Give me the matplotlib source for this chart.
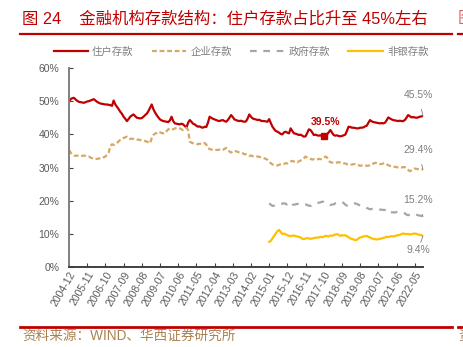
import numpy as np
import pandas as pd
import matplotlib
matplotlib.use("Agg")
import matplotlib.pyplot as plt
from matplotlib.lines import Line2D

plt.rcParams['font.family'] = ['Liberation Sans', 'Noto Sans CJK SC', 'DejaVu Sans']

# 月度数据：2004-12 ~ 2022-10
months = pd.date_range('2004-12-01', periods=215, freq='MS').strftime('%Y-%m')

household = [
    50.0, 50.6, 50.9, 51.0, 50.5, 50.1, 49.8, 49.7, 49.6, 49.5, 49.7, 49.9,
    50.0, 50.2, 50.4, 50.6, 50.2, 49.8, 49.5, 49.3, 49.2, 49.1, 49.0, 49.0,
    48.9, 48.8, 48.6, 50.2, 49.0, 48.3, 47.6, 46.8, 46.2, 45.3, 44.7, 44.0,
    44.6, 45.3, 45.7, 46.0, 45.5, 45.0, 44.9, 44.8, 44.9, 45.3, 45.8, 46.2,
    47.0, 48.0, 49.0, 47.6, 46.6, 45.8, 45.1, 44.5, 44.2, 44.0, 43.9, 43.8,
    43.7, 44.2, 45.3, 44.0, 43.3, 43.2, 43.1, 43.0, 43.2, 43.0, 42.5, 42.0,
    43.5, 44.3, 43.8, 43.2, 43.0, 42.6, 42.3, 42.4, 42.1, 42.0, 42.3, 42.2,
    43.5, 45.3, 45.0, 44.7, 44.5, 44.3, 44.1, 44.0, 44.2, 44.3, 44.0, 43.8,
    44.3, 45.0, 45.8, 45.2, 44.5, 44.3, 44.1, 44.0, 44.1, 43.9, 43.8, 43.9,
    44.8, 46.0, 45.3, 44.8, 44.6, 44.5, 44.3, 44.4, 44.1, 44.0, 44.0, 43.9,
    43.8, 44.6, 43.4, 42.3, 41.6, 41.0, 40.8, 40.5, 40.1, 40.0, 40.6, 40.8,
    40.5, 40.3, 41.8, 41.0, 40.3, 40.2, 40.0, 39.8, 39.9, 39.6, 39.3, 39.4,
    40.4, 41.5, 41.3, 40.6, 39.8, 39.9, 39.7, 39.6, 39.7, 39.4, 39.5, 39.6,
    40.0, 40.6, 41.3, 40.5, 39.8, 39.6, 39.7, 39.5, 39.4, 39.5, 39.7, 39.9,
    41.0, 42.3, 42.2, 42.0, 42.0, 41.9, 41.8, 41.8, 42.0, 42.0, 42.1, 42.4,
    42.6, 43.5, 44.3, 43.9, 43.7, 43.6, 43.5, 43.4, 43.3, 43.4, 43.3, 43.5,
    44.2, 45.1, 44.8, 44.5, 44.3, 44.2, 44.1, 44.0, 44.1, 44.0, 44.0, 44.3,
    45.0, 45.8, 45.5, 45.1, 45.2, 45.1, 45.0, 45.1, 45.3, 45.4, 45.5,
]

enterprise = [
    35.3, 34.5, 33.8, 33.6, 33.5, 33.6, 33.5, 33.4, 33.5, 33.6, 33.5, 33.3,
    33.3, 33.0, 32.8, 32.6, 32.5, 32.6, 32.7, 32.8, 33.0, 33.1, 33.3, 33.8,
    34.5, 36.5, 37.0, 36.8, 37.0, 37.4, 37.9, 38.3, 38.6, 38.9, 39.1, 39.3,
    38.8, 38.6, 38.7, 38.6, 38.5, 38.4, 38.4, 38.3, 38.2, 38.1, 38.0, 37.8,
    37.6, 37.3, 38.8, 39.8, 40.2, 40.4, 40.8, 40.6, 40.4, 40.3, 40.3, 41.0,
    41.5, 41.8, 41.7, 41.5, 41.8, 41.9, 42.0, 41.8, 41.5, 41.3, 41.6, 42.0,
    41.3, 37.8, 37.5, 37.3, 37.2, 37.1, 37.0, 37.2, 37.1, 37.3, 37.4, 36.9,
    35.8, 35.6, 35.4, 35.3, 35.2, 35.3, 35.3, 35.4, 35.2, 35.3, 35.6, 35.9,
    35.4, 34.8, 34.5, 34.9, 35.0, 34.9, 34.7, 34.5, 34.4, 34.3, 34.0, 34.0,
    33.8, 33.5, 33.6, 33.4, 33.5, 33.4, 33.3, 33.2, 33.1, 33.0, 32.8, 32.6,
    32.3, 31.7, 31.3, 30.9, 30.8, 30.7, 30.6, 30.8, 31.0, 31.2, 31.1, 31.3,
    31.2, 31.5, 31.8, 32.0, 31.8, 31.9, 31.6, 31.9, 32.1, 32.3, 32.8, 33.3,
    33.0, 32.7, 32.6, 32.4, 32.5, 32.3, 32.4, 32.6, 32.5, 32.6, 32.9, 33.3,
    33.0, 32.0, 31.6, 31.5, 31.4, 31.3, 31.5, 31.6, 31.5, 31.4, 31.3, 31.2,
    31.0, 30.9, 30.8, 30.9, 31.0, 31.0, 30.8, 30.7, 30.5, 30.6, 30.5, 30.6,
    30.5, 30.6, 30.6, 30.8, 31.2, 31.4, 31.3, 31.1, 31.0, 31.1, 31.2, 31.3,
    31.0, 30.7, 30.5, 30.4, 30.3, 30.2, 30.1, 30.0, 29.9, 30.0, 30.1, 30.1,
    29.7, 29.3, 28.9, 29.1, 29.4, 29.7, 29.6, 29.5, 29.4, 29.4, 29.4,
]

# 政府、非银存款从 2015-01 开始
government = [
    19.2, 18.8, 18.4, 18.5, 18.7, 18.9, 19.0, 19.0, 19.1, 19.2, 19.1,
    18.6, 18.0, 18.3, 18.7, 18.8, 18.9, 19.0, 19.1, 19.2, 19.2, 19.0, 18.9,
    18.7, 18.5, 18.4, 18.7, 19.0, 19.1, 19.2, 19.4, 19.5, 19.7, 19.6, 19.2,
    19.0, 18.8, 18.7, 18.8, 18.9, 19.2, 19.3, 19.5, 19.6, 19.7, 19.3, 18.8,
    18.5, 18.4, 18.7, 18.9, 19.1, 19.2, 19.0, 18.8, 18.5, 18.3, 18.1, 18.0,
    17.8, 17.6, 17.4, 17.5, 17.6, 17.5, 17.4, 17.4, 17.3, 17.3, 17.2, 17.2,
    16.4, 16.5, 16.6, 16.5, 16.5, 16.4, 16.6, 16.7, 16.5, 16.4, 16.3, 16.2,
    15.8, 15.6, 15.8, 15.9, 16.0, 16.0, 15.8, 15.6, 15.5, 15.4, 15.2,
]

nonbank = [
    7.6, 7.9, 8.6, 9.4, 10.1, 10.8, 11.2, 10.5, 9.9, 10.1, 9.8,
    9.6, 9.4, 9.3, 9.4, 9.5, 9.3, 9.2, 9.1, 8.9, 8.5, 8.4, 8.6,
    8.7, 8.6, 8.5, 8.6, 8.7, 8.8, 8.9, 8.9, 9.1, 9.0, 9.1, 9.4,
    9.3, 9.2, 9.5, 9.4, 9.6, 9.8, 9.9, 9.7, 9.4, 9.6, 9.5, 9.6,
    9.3, 9.0, 8.6, 8.5, 8.3, 8.1, 8.2, 8.6, 8.9, 9.0, 9.2, 9.3,
    9.4, 9.1, 8.9, 8.6, 8.5, 8.4, 8.3, 8.4, 8.5, 8.6, 8.8, 8.9,
    9.1, 9.0, 9.2, 9.3, 9.2, 9.3, 9.5, 9.6, 9.7, 9.9, 10.1, 10.0,
    9.9, 10.0, 9.8, 9.9, 10.0, 10.1, 10.0, 9.8, 9.7, 9.6, 9.4,
]

x = np.arange(len(months))
x_late = x[len(months) - len(government):]
low_idx = 154  # 2017-10

RED = '#c00000'
TAN = '#d6a866'
GRAY = '#a6a6a6'
YELLOW = '#ffc000'
TXT = '#595959'

fig = plt.figure(figsize=(4.64, 3.47), dpi=100)
W, H = 464, 347
ax = fig.add_axes([69 / W, 1 - 267 / H, (423 - 69) / W, (267 - 68) / H])

l1, = ax.plot(x, household, color=RED, lw=1.6, label='住户存款')
l2, = ax.plot(x, enterprise, color=TAN, lw=1.6, dashes=(2.2, 1.2), label='企业存款')
l3, = ax.plot(x_late, government, color=GRAY, lw=1.6, dashes=(3, 3), label='政府存款')
l4, = ax.plot(x_late, nonbank, color=YELLOW, lw=1.6, label='非银存款')

ax.plot(x[low_idx], household[low_idx], 's', color=RED, ms=5)
ax.text(x[low_idx] + 1, household[low_idx] + 2.6, f'{household[low_idx]:.1f}%',
        color=RED, fontsize=7.5, fontweight='bold', ha='center', va='bottom')

# 末值标注
end = x[-1]
for val, ty in [(household[-1], 51.9), (enterprise[-1], 35.3), (government[-1], 20.2), (nonbank[-1], 5.1)]:
    ax.annotate(f'{val:.1f}%', xy=(end, val), xytext=(end - 3, ty),
                color='#7f7f7f', fontsize=7.5, ha='center', va='center',
                arrowprops=dict(arrowstyle='-', color='#7f7f7f', lw=0.6, shrinkA=5, shrinkB=0),
                annotation_clip=False)

ax.set_xlim(0, len(months) - 1)
ax.set_ylim(0, 60)
ax.set_yticks(range(0, 61, 10))
ax.set_yticklabels([f'{v}%' for v in range(0, 61, 10)])
ax.set_xticks(x[::11])
ax.set_xticklabels(months[::11], rotation=60, ha='right', rotation_mode='anchor')
ax.tick_params(axis='both', direction='in', length=3, width=0.8, colors='#404040',
               labelcolor=TXT, labelsize=7.5)
ax.tick_params(axis='x', pad=2)
ax.tick_params(axis='y', pad=7)

for side in ['top', 'right']:
    ax.spines[side].set_visible(False)
ax.spines['left'].set_color('#808080')
ax.spines['left'].set_linewidth(1.4)
ax.spines['bottom'].set_color('#404040')
ax.spines['bottom'].set_linewidth(1.4)

fig.legend(handles=[l1, l2, l3, l4], loc='center', bbox_to_anchor=(241 / W, 1 - 52 / H),
           ncol=4, frameon=False, fontsize=7.5, labelcolor='#7f7f7f',
           handlelength=3.3, columnspacing=1.75, handletextpad=0.4)

# 标题与来源
fig.text(22 / W, 1 - 19 / H, '图 24    金融机构存款结构：住户存款占比升至 45%左右',
         color=RED, fontsize=11.8, va='center', ha='left')
fig.text(458 / W, 1 - 19 / H, '图', color='#e06060', fontsize=11.8, va='center', ha='left')
fig.add_artist(Line2D([20 / W, 452 / W], [1 - 34 / H] * 2, color=RED, lw=1.6))
fig.add_artist(Line2D([458 / W, 1], [1 - 34 / H] * 2, color=RED, lw=1.6))
fig.add_artist(Line2D([20 / W, 452 / W], [1 - 327 / H] * 2, color=RED, lw=2))
fig.add_artist(Line2D([458 / W, 1], [1 - 327 / H] * 2, color=RED, lw=2))
fig.text(22 / W, 1 - 336 / H, '资料来源：WIND、华西证券研究所', color='#a8824f',
         fontsize=9.8, va='center', ha='left')
fig.text(458 / W, 1 - 336 / H, '资', color='#a8824f', fontsize=9.8, va='center', ha='left')

fig.savefig('out.png', dpi=100)
